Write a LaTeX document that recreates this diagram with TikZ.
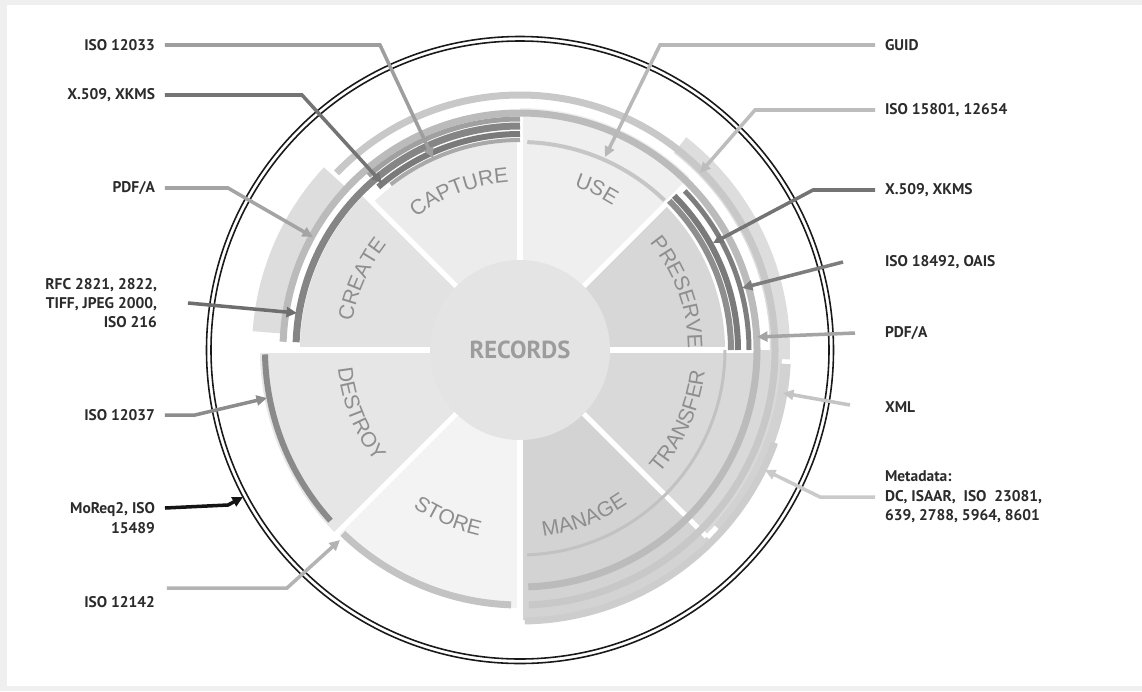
\documentclass[tikz,border=0pt]{standalone}
\usepackage{fontspec}
\setmainfont{Liberation Sans}
\setsansfont{Liberation Sans}
\newfontfamily\labfont{PT Sans}
\usetikzlibrary{calc,arrows.meta,decorations.text}
\definecolor{framec}{HTML}{EFEFEF}
\definecolor{labc}{HTML}{2B2B2B}
\definecolor{secc}{HTML}{8E8E8E}
\definecolor{recc}{HTML}{9C9C9C}
\definecolor{hubc}{HTML}{E4E4E4}
% sector fills
\definecolor{cPres}{HTML}{D7D7D7}
\definecolor{cUse}{HTML}{EFEFEF}
\definecolor{cCapt}{HTML}{ECECEC}
\definecolor{cCrea}{HTML}{E2E2E2}
\definecolor{cDest}{HTML}{E6E6E6}
\definecolor{cStor}{HTML}{F3F3F3}
\definecolor{cMana}{HTML}{D3D3D3}
\definecolor{cTran}{HTML}{D9D9D9}
% bands of standards
\definecolor{bPale}{HTML}{DDDDDD}
\definecolor{b15801}{HTML}{C8C8C8}
\definecolor{bPdfa}{HTML}{BBBBBB}
\definecolor{bRfc}{HTML}{858585}
\definecolor{bCapA}{HTML}{A0A0A0}
\definecolor{bCapB}{HTML}{A9A9A9}
\definecolor{bX509}{HTML}{7A7A7A}
\definecolor{bGuid}{HTML}{C6C6C6}
\definecolor{bPresA}{HTML}{8E8E8E}
\definecolor{bOais}{HTML}{7E7E7E}
\definecolor{bInner}{HTML}{C2C2C2}
\definecolor{bXml}{HTML}{D2D2D2}
\definecolor{bMeta}{HTML}{CDCDCD}
\definecolor{bDest}{HTML}{8A8A8A}
\definecolor{bStor}{HTML}{C3C3C3}
% leader lines
\definecolor{c12033}{HTML}{9E9E9E}
\definecolor{cx509}{HTML}{747474}
\definecolor{cpdfa}{HTML}{A4A4A4}
\definecolor{crfc}{HTML}{6E6E6E}
\definecolor{c12037}{HTML}{8C8C8C}
\definecolor{cmoreq}{HTML}{141414}
\definecolor{c12142}{HTML}{B3B3B3}
\definecolor{cguid}{HTML}{B8B8B8}
\definecolor{c15801}{HTML}{BDBDBD}
\definecolor{coais}{HTML}{7D7D7D}
\definecolor{cxml}{HTML}{C4C4C4}
\definecolor{cmeta}{HTML}{CACACA}
\newcommand\secfont{\sffamily\fontsize{12}{14}\selectfont}
% sector wedge: from, to, radius, colour
\newcommand\wedgefill[4]{\fill[#4] (0,0) -- (#1:#3) arc[start angle=#1,end angle=#2,radius=#3] -- cycle;}
% band of one standard: from, to, mid radius, width (px), colour
\newcommand\stdband[5]{\draw[line width=#4*0.02cm,#5] (#1:#3) arc[start angle=#1,end angle=#2,radius=#3];}
\tikzset{
  lab/.style={font=\labfont\fontsize{8.8}{11}\selectfont\bfseries,text=labc,inner sep=0pt,outer xsep=5.7pt},
  lead/.style={-{Triangle[length=2.1mm,width=2mm]},line width=2pt},
  gap/.style={white,line width=2.9pt},
  ring/.style={line width=0.9pt,black!90},
  secname/.style={decorate,decoration={text along path,text align=center,text color=secc,text={|\secfont|#1}}},
}
\begin{document}
\begin{tikzpicture}[x=0.02cm,y=0.02cm,
  hub/.style={circle,fill=hubc,minimum size=3.6cm,inner sep=0pt,
    font=\labfont\bfseries\fontsize{14}{16}\selectfont,text=recc}]
  % ---- frame ----
  \fill[framec] (-520,-341) rectangle (622,350);
  \fill[white] (-513,-336) rectangle (622,345);
  \useasboundingbox (-520,-341) rectangle (622,350);
  % ---- the eight sectors ----
  \wedgefill{0}{45}{205}{cPres}
  \wedgefill{45}{90}{242}{cUse}
  \wedgefill{90}{135}{208}{cCapt}
  \wedgefill{135}{180}{220}{cCrea}
  \wedgefill{180}{225}{260}{cDest}
  \wedgefill{225}{270}{258}{cStor}
  \wedgefill{270}{315}{270}{cMana}
  \wedgefill{315}{360}{262}{cTran}
  \draw[gap] (0:90)--(0:235); \draw[gap] (45:90)--(45:245);
  \draw[gap] (90:90)--(90:240); \draw[gap] (135:90)--(135:240);
  \draw[gap] (180:90)--(180:264); \draw[gap] (225:90)--(225:264);
  \draw[gap] (270:90)--(270:274); \draw[gap] (315:90)--(315:264);
  % ---- bands: which standard covers which stages ----
  \stdband{176}{137}{254}{28}{bPale}
  \stdband{52}{-2}{260}{20}{bPale}
  \stdband{136}{-88}{255}{7}{b15801}
  \stdband{178}{-88}{237}{7}{bPdfa}
  \stdband{178}{90}{224}{7}{bRfc}
  \stdband{131}{90}{231}{5}{bCapA}
  \stdband{131}{90}{216}{6}{bX509}
  \stdband{128}{90}{210}{4}{bCapB}
  \stdband{88}{46}{208}{4}{bGuid}
  \stdband{45}{0}{211}{6}{bPresA}
  \stdband{45}{0}{218}{6}{bX509}
  \stdband{44}{0}{229}{5}{bOais}
  \stdband{0}{-88}{205}{3}{bInner}
  \stdband{-3}{-42}{266}{10}{bXml}
  \stdband{-20}{-89}{271}{7}{bMeta}
  \stdband{181}{222}{255}{6}{bDest}
  \stdband{226}{268}{255}{7}{bStor}
  % ---- hub and outer ring ----
  \node[hub] (rec) at (0,0) {RECORDS};
  \draw[ring] (rec.center) circle[radius=313.5];
  \draw[ring] (rec.center) circle[radius=309];
  % ---- stage names, set along the arcs ----
  \path[secname=CAPTURE] (140:168) arc[start angle=140,end angle=82,radius=168];
  \path[secname=USE] (95:172) arc[start angle=95,end angle=34,radius=172];
  \path[secname=PRESERVE] (50:168) arc[start angle=50,end angle=-10,radius=168];
  \path[secname=TRANSFER] (-54:186) arc[start angle=-54,end angle=6,radius=186];
  \path[secname=MANAGE] (-99:188) arc[start angle=-99,end angle=-39,radius=188];
  \path[secname=STORE] (216.7:190) arc[start angle=216.7,end angle=276.7,radius=190];
  \path[secname=DESTROY] (171.7:183) arc[start angle=171.7,end angle=231.7,radius=183];
  \path[secname=CREATE] (186:170) arc[start angle=186,end angle=126,radius=170];
  % ---- left labels ----
  \node[lab,anchor=east] (l12033) at (-355,305) {ISO 12033};
  \node[lab,anchor=east] (lx509a) at (-355,255) {X.509, XKMS};
  \node[lab,anchor=east] (lpdfa) at (-355,162) {PDF/A};
  \node[lab,anchor=east,align=right] (lrfc) at (-353,47) {RFC 2821, 2822,\\TIFF, JPEG 2000,\\ISO 216};
  \node[lab,anchor=east] (l12037) at (-355,-65) {ISO 12037};
  \node[lab,anchor=east,align=right] (lmoreq) at (-355,-168) {MoReq2, ISO\\15489};
  \node[lab,anchor=east] (l12142) at (-355,-252) {ISO 12142};
  \coordinate (k12033) at (-140,305); \coordinate (t12033) at (-87,192);
  \coordinate (kx509a) at (-218,255); \coordinate (tx509a) at (-138,167);
  \coordinate (kpdfa) at (-292,162); \coordinate (tpdfa) at (-207,113);
  \coordinate (trfc) at (-223,37);
  \coordinate (k12037) at (-325,-65); \coordinate (t12037) at (-253,-48);
  \coordinate (kmoreq) at (-292,-155); \coordinate (tmoreq) at (-277,-147);
  \coordinate (k12142a) at (-353,-238); \coordinate (k12142) at (-233,-238); \coordinate (t12142) at (-180,-190);
  \draw[lead,c12033] (l12033) -- (k12033) -- (t12033);
  \draw[lead,cx509] (lx509a) -- (kx509a) -- (tx509a);
  \draw[lead,cpdfa] (lpdfa) -- (kpdfa) -- (tpdfa);
  \draw[lead,crfc] ([xshift=0.42cm]lrfc.east) -- (trfc);
  \draw[lead,c12037] (l12037) -- (k12037) -- (t12037);
  \draw[lead,cmoreq] ([yshift=0.2cm]lmoreq.east) -- (kmoreq) -- (tmoreq);
  \draw[lead,c12142] (k12142a) -- (k12142) -- (t12142);
  % ---- right labels ----
  \node[lab,anchor=west] (lguid) at (355,305) {GUID};
  \node[lab,anchor=west] (l15801) at (355,240) {ISO 15801, 12654};
  \node[lab,anchor=west] (lx509b) at (355,160) {X.509, XKMS};
  \node[lab,anchor=west] (l18492) at (355,88) {ISO 18492, OAIS};
  \node[lab,anchor=west] (lpdfb) at (355,17) {PDF/A};
  \node[lab,anchor=west] (lxml) at (355,-57) {XML};
  \node[lab,anchor=west,align=left] (lmeta) at (355,-147) {Metadata:\\DC, ISAAR, \ ISO \ 23081,\\639, 2788, 5964, 8601};
  \coordinate (kguid) at (140,305); \coordinate (tguid) at (85,193);
  \coordinate (k15801) at (235,240); \coordinate (t15801) at (180,177);
  \coordinate (kx509b) at (293,160); \coordinate (tx509b) at (193,107);
  \coordinate (t18492) at (222,62);
  \coordinate (tpdfb) at (237,13);
  \coordinate (txml) at (263,-43);
  \coordinate (kmeta) at (300,-147); \coordinate (tmeta) at (245,-120);
  \draw[lead,cguid] (lguid) -- (kguid) -- (tguid);
  \draw[lead,c15801] (l15801) -- (k15801) -- (t15801);
  \draw[lead,cx509] (lx509b) -- (kx509b) -- (tx509b);
  \draw[lead,coais] ([xshift=-0.64cm]l18492.west) -- (t18492);
  \draw[lead,cpdfa] ([xshift=-0.4cm]lpdfb.west) -- (tpdfb);
  \draw[lead,cxml] ([xshift=-0.5cm,yshift=0.04cm]lxml.west) -- (txml);
  \draw[lead,cmeta] (lmeta) -- (kmeta) -- (tmeta);
\end{tikzpicture}
\end{document}
